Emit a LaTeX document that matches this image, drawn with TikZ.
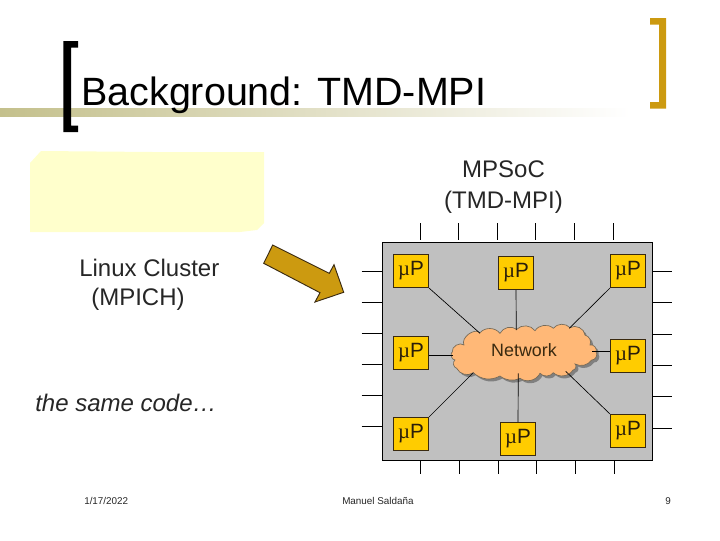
\documentclass[tikz,border=0pt]{standalone}
\usepackage{fontspec}
\setmainfont{Liberation Sans}
\newfontfamily\mufont{Liberation Serif}
\definecolor{barolive}{HTML}{C4C08C}
\definecolor{padyellow}{HTML}{FFFFCC}
\definecolor{chipgold}{HTML}{FFCC00}
\definecolor{chipedge}{HTML}{3A2A10}
\definecolor{boardgray}{HTML}{C0C0C0}
\definecolor{cloudpeach}{HTML}{FFB877}
\definecolor{arrowgold}{HTML}{CC9A10}
\tikzset{
  chip/.style={draw=chipedge,fill=chipgold,line width=0.6pt,minimum width=26.5pt,minimum height=25pt,inner sep=0pt,font=\fontsize{15.5}{17}\selectfont,text=chipedge!70!black},
  pin/.style={draw=black,line width=0.6pt},
  wire/.style={draw=black,line width=0.5pt},
  label/.style={font=\fontsize{18}{21}\selectfont,inner sep=0pt,text=black!85},
  foot/.style={font=\fontsize{7.4}{9}\selectfont,inner sep=0pt,text=black!85},
  puff/.style={bend right=#1}
}
\newcommand{\mup}{{\mufont µ}P}
\newcommand{\cloudpath}{(452.3,351.7) to[puff=70] (464,345) to[puff=80] (480,332.7) to[puff=50] (500,333.3) to[puff=50] (516.7,329.3) to[puff=50] (535,330.7) to[puff=50] (553.3,328.3) to[puff=50] (570,327.7) to[puff=60] (585,335) to[puff=50] (590,345) to[puff=70] (596,351.7) to[puff=70] (591.7,360) to[puff=40] (575,364) to[puff=80] (573,370) to[puff=50] (553.3,372.7) to[puff=50] (540,373.3) to[puff=50] (520,378.3) to[puff=30] (500,376) to[puff=35] (473.3,372.7) to[puff=50] (456.7,368.3) to[puff=70] (455,360) to[puff=70] (452.3,351.7) -- cycle}
\begin{document}
\begin{tikzpicture}[x=0.75pt,y=0.75pt,yscale=-1,xscale=1]
    \useasboundingbox (0,0) rectangle (720,540);
    % Title bar
    \shade[left color=barolive,right color=white,shading angle=90] (0,108.3) rectangle (630,116.7);
    % Brackets
    \fill[black] (63.3,41) -- (78,41) -- (78,47.5) -- (71,47.5) -- (71,125.5) -- (78,125.5) -- (78,132) -- (63.3,132) -- cycle;
    \fill[arrowgold] (666,18) -- (650,18) -- (650,24.7) -- (659,24.7) -- (659,102) -- (650,102) -- (650,108.7) -- (666,108.7) -- cycle;
    \node[anchor=base west,inner sep=0pt,font=\fontsize{29.6}{32}\selectfont] (title) at (81,105.3) {Background: TMD-MPI};
    % Yellow pad
    \fill[padyellow] (30,163) -- (41,151) -- (153,152) -- (264,152) -- (264,223) -- (257,230) -- (240,232) -- (30,232) -- cycle;
    % Labels
    \node[label,align=center] (mpsoc) at (503.5,187) {MPSoC\\[2pt](TMD-MPI)};
    \node[label,anchor=base west] (linux) at (79,276) {Linux Cluster};
    \node[label,anchor=base west] (mpich) at (91,305) {(MPICH)};
    \node[label,anchor=base west,font=\fontsize{18}{21}\selectfont\itshape] (code) at (35,411) {the same code…};
    % Arrow
    \draw[draw=chipedge,fill=arrowgold,line width=0.7pt] (272.7,245) -- (329.3,273.3) -- (334,264.7) -- (343.7,292.3) -- (315,302) -- (320,292.7) -- (263.7,263.3) -- cycle;
    % Board
    \draw[fill=boardgray,line width=0.7pt] (382.3,242.3) rectangle (652.7,460.3);
    % Pins
    \foreach \px in {420,458.3,497.3,535.3,574.3,613.7}
      \draw[pin] (\px,223.3) -- (\px,240);
    \foreach \px in {420.3,459.3,498,536.3,575.3,614.7}
      \draw[pin] (\px,460.7) -- (\px,474);
    \foreach \py in {271,302.3,333.3,364.3,395,426.7}
      \draw[pin] (361.7,\py) -- (382,\py);
    \foreach \py in {271.3,302.3,334.3,365.3,396.3,428.3}
      \draw[pin] (653,\py) -- (671.7,\py);
    % Cloud
    \begin{scope}[shift={(2.5,2.5)}]
      \fill[black!50] \cloudpath;
    \end{scope}
    \draw[draw=chipedge!70,fill=cloudpeach,line width=0.5pt] \cloudpath;
    \node[inner sep=0pt,font=\fontsize{13.4}{15}\selectfont,text=chipedge] (network) at (524,350.5) {Network};
    % Processors
    \node[chip] (mpTL) at (411,271) {\mup};
    \node[chip] (mpTM) at (516,273) {\mup};
    \node[chip] (mpTR) at (628,271) {\mup};
    \node[chip] (mpML) at (411,353) {\mup};
    \node[chip] (mpMR) at (628,356) {\mup};
    \node[chip] (mpBL) at (411,434) {\mup};
    \node[chip] (mpBM) at (518,439) {\mup};
    \node[chip] (mpBR) at (628,431) {\mup};
    % Ends on the cloud
    \coordinate (netTL) at (480,333.3);
    \coordinate (netTM) at (516.3,330);
    \coordinate (netTR) at (569.3,328.3);
    \coordinate (netML) at (453.3,355.3);
    \coordinate (netMR) at (592.3,351.3);
    \coordinate (netBL) at (473.3,372.7);
    \coordinate (netBM) at (518.3,373.3);
    \coordinate (netBR) at (565.7,371.3);
    % Connections
    \draw[wire] (mpTL.south east) -- (netTL);
    \draw[wire] (mpTM.south) -- (netTM);
    \draw[wire] (mpTR.south west) -- (netTR);
    \draw[wire] (mpML.east |- netML) -- (netML);
    \draw[wire] (mpMR.west |- netMR) -- (netMR);
    \draw[wire] (mpBL.north east) -- (netBL);
    \draw[wire] (mpBM.north) -- (netBM);
    \draw[wire] (mpBR.north west) -- (netBR);
    % Footer
    \node[foot,anchor=base west] (date) at (84,504) {1/17/2022};
    \node[foot,anchor=base west] (author) at (342,504) {Manuel Saldaña};
    \node[foot,anchor=base east] (page) at (671,504) {9};
\end{tikzpicture}
\end{document}
